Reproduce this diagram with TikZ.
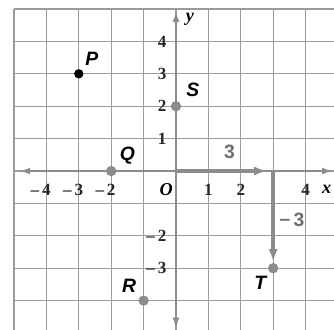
\documentclass[tikz,border=0pt]{standalone}
\usepackage{fontspec}
\setmainfont{Liberation Serif}
\newfontfamily\ptfont{Liberation Sans}
\usetikzlibrary{arrows.meta}
\definecolor{axisgray}{RGB}{140,140,140}
\definecolor{gridgray}{RGB}{155,155,155}
\definecolor{labgray}{RGB}{110,110,110}
\begin{document}
\begin{tikzpicture}[
  gridline/.style={draw=gridgray, line width=1.1pt},
  axisline/.style={draw=axisgray, line width=2pt, {Latex[length=10pt,width=6pt]}-{Latex[length=10pt,width=6pt]}},
  vecline/.style={draw=axisgray, line width=3pt, -{Latex[length=11pt,width=8pt]}},
  blackdot/.style={circle, fill=black, inner sep=0pt, minimum size=0.29cm},
  graydot/.style={circle, fill=axisgray, inner sep=0pt, minimum size=0.32cm},
  num/.style={font=\fontsize{15}{15}\selectfont\bfseries, text=black!85, inner sep=0pt},
  axlab/.style={font=\fontsize{16}{16}\selectfont\itshape\bfseries, inner sep=0pt},
  ptlab/.style={font=\fontsize{17}{17}\selectfont\ptfont\bfseries\itshape, inner sep=0pt},
  veclab/.style={font=\fontsize{17}{17}\selectfont\ptfont\bfseries, text=labgray, inner sep=0pt}
]
\useasboundingbox (-5.432,-4.907) rectangle (4.877,5.278);
% grid
\foreach \x in {-5,...,4} \draw[gridline] (\x,5) -- (\x,-4.907);
\foreach \y in {-4,...,5} \draw[gridline] (-5,\y) -- (4.877,\y);
% axes
\coordinate (xl) at (-4.85,0);
\coordinate (xr) at (4.86,0);
\coordinate (yb) at (0,-4.88);
\coordinate (yt) at (0,4.95);
\draw[axisline] (xl) -- (xr);
\draw[axisline] (yb) -- (yt);
% vectors
\coordinate (O) at (0,0);
\coordinate (A) at (3,0);
\coordinate (Aend) at (2.8,0);
\coordinate (Tend) at (3,-2.8);
\draw[vecline] (O) -- (Aend);
\draw[vecline] (A) -- (Tend);
\node[veclab] (l3) at (1.65,0.6) {3};
\node[veclab] (lm3) at (3.8,-1.5) {\llap{\raisebox{0.1ex}{–}\,}3};
% points
\node[blackdot] (P) at (-3,3) {};
\node[graydot] (Q) at (-2,0) {};
\node[graydot] (S) at (0,2) {};
\node[graydot] (R) at (-1,-4) {};
\node[graydot] (T) at (3,-3) {};
\node[ptlab] (Pl) at (-2.6,3.45) {P};
\node[ptlab] (Ql) at (-1.5,0.48) {Q};
\node[ptlab] (Sl) at (0.52,2.5) {S};
\node[ptlab] (Rl) at (-1.45,-3.55) {R};
\node[ptlab] (Tl) at (2.6,-3.45) {T};
% axis numbers
\foreach \x in {-4,-3,-2} \node[num] at (\x,-0.58) {\llap{–\,}\the\numexpr-\x\relax};
\node[num] at (1,-0.58) {1};
\node[num] at (2,-0.58) {2};
\node[num] at (4,-0.58) {4};
\node[axlab] (olab) at (-0.3,-0.58) {O};
\node[axlab] (xlab) at (4.65,-0.55) {x};
\node[axlab] (ylab) at (0.43,4.68) {y};
\foreach \y in {1,2,3,4} \node[num] at (-0.43,\y) {\y};
\foreach \y in {-2,-3} \node[num] at (-0.43,\y) {\llap{–\,}\the\numexpr-\y\relax};
\end{tikzpicture}
\end{document}
